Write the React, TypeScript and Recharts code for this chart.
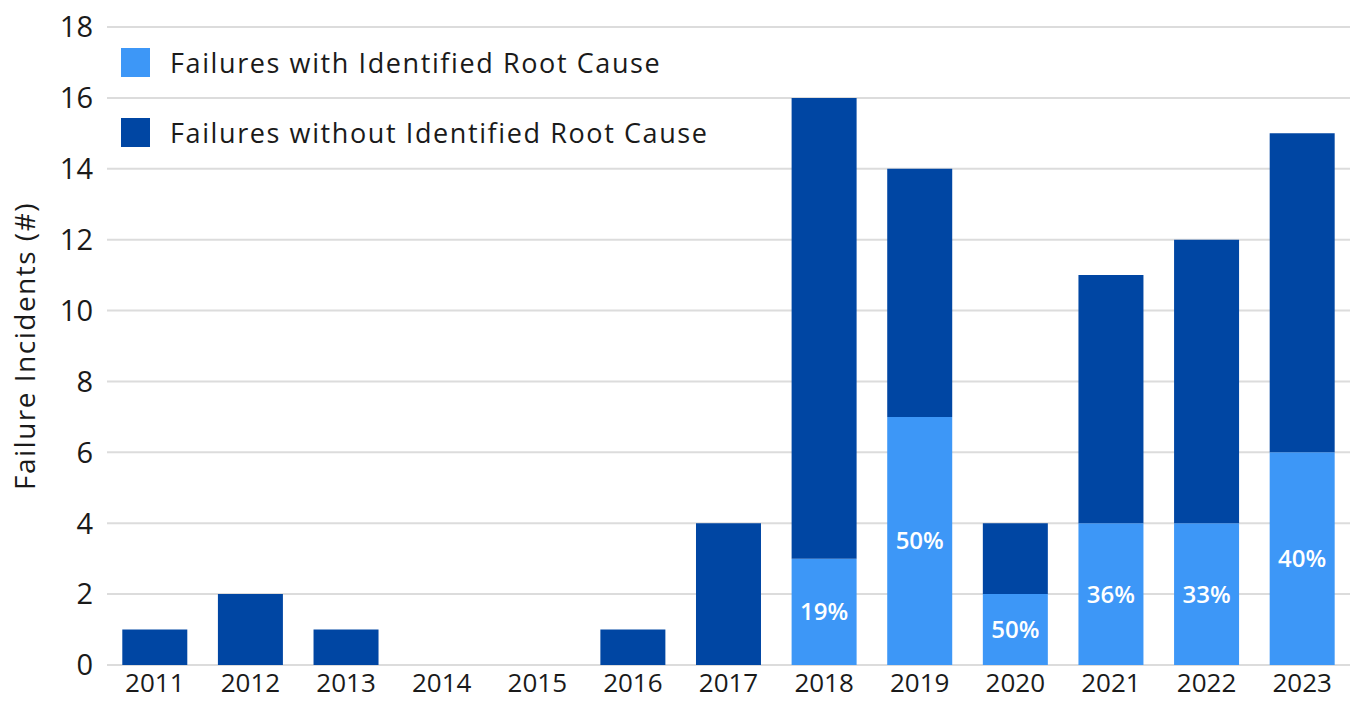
import { BarChart, Bar, XAxis, YAxis, CartesianGrid, LabelList } from 'recharts'

document.body.style.margin = '0'

const years = ['2011', '2012', '2013', '2014', '2015', '2016', '2017', '2018', '2019', '2020', '2021', '2022', '2023']
const withRootCause = [0, 0, 0, 0, 0, 0, 0, 3, 7, 2, 4, 4, 6]
const withoutRootCause = [1, 2, 1, 0, 0, 1, 4, 13, 7, 2, 7, 8, 9]
const pctLabels = ['', '', '', '', '', '', '', '19%', '50%', '50%', '36%', '33%', '40%']
const yTicks = [0, 2, 4, 6, 8, 10, 12, 14, 16, 18]

const LIGHT = '#3d97f7'
const DARK = '#0046a3'
const FONT = '"Open Sans", Lato, sans-serif'

const data = years.map((year, i) => ({
  year,
  withRoot: withRootCause[i],
  withoutRoot: withoutRootCause[i],
  pct: pctLabels[i],
}))

const legendItems = [
  { label: 'Failures with Identified Root Cause', color: LIGHT },
  { label: 'Failures without Identified Root Cause', color: DARK },
]

function ChartLegend() {
  return (
    <div style={{ position: 'absolute', left: 121, top: 27, fontFamily: FONT }}>
      {legendItems.map((item) => (
        <div key={item.label} style={{ display: 'flex', alignItems: 'center', height: 70 }}>
          <span style={{ width: 29, height: 29, background: item.color, display: 'inline-block', marginRight: 20 }} />
          <span style={{ fontSize: 27, letterSpacing: 1.6, color: '#1a1a1a' }}>{item.label}</span>
        </div>
      ))}
    </div>
  )
}

export default function App() {
  return (
    <div style={{ position: 'relative', width: 1355, height: 702 }}>
      <BarChart
        width={1355}
        height={702}
        data={data}
        margin={{ top: 27, right: 5, left: 0, bottom: 7 }}
        barCategoryGap="16%"
        style={{ fontFamily: FONT }}
      >
        <CartesianGrid vertical={false} stroke="#dcdcdc" strokeWidth={2} />
        <XAxis
          dataKey="year"
          height={30}
          axisLine={false}
          tickLine={false}
          tickSize={0}
          tickMargin={9}
          tick={{ fontSize: 26, fill: '#1a1a1a' }}
          interval={0}
        />
        <YAxis
          width={107}
          domain={[0, 18]}
          ticks={yTicks}
          axisLine={false}
          tickLine={false}
          tickSize={0}
          tickMargin={14}
          tick={{ fontSize: 29, fill: '#1a1a1a' }}
          label={{
            value: 'Failure Incidents (#)',
            angle: -90,
            position: 'insideLeft',
            offset: 25,
            textAnchor: 'middle',
            fontSize: 28,
            letterSpacing: 1.5,
            fill: '#1a1a1a',
          }}
        />
        <Bar dataKey="withRoot" stackId="a" fill={LIGHT} isAnimationActive={false}>
          <LabelList dataKey="pct" position="center" fill="#ffffff" fontSize={24} fontWeight={600} />
        </Bar>
        <Bar dataKey="withoutRoot" stackId="a" fill={DARK} isAnimationActive={false} />
      </BarChart>
      <ChartLegend />
    </div>
  )
}
